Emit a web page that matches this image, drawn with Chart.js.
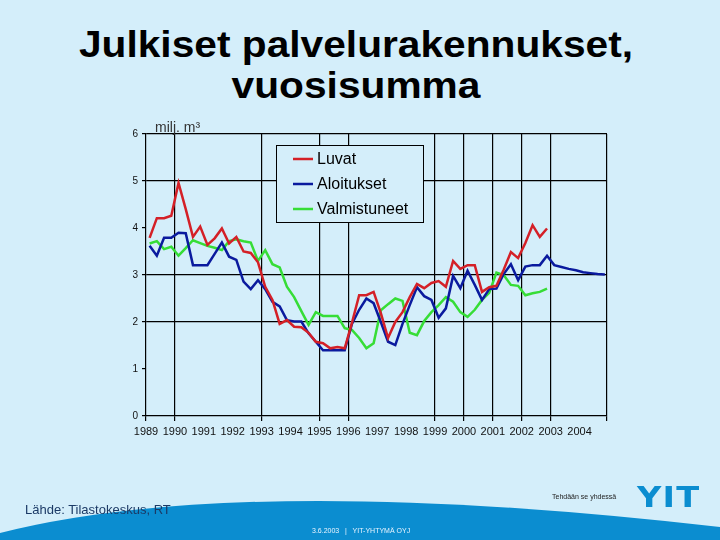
<!DOCTYPE html>
<html>
<head>
<meta charset="utf-8">
<script src="https://cdn.jsdelivr.net/npm/chart.js@4"></script>
<style>
  body { margin: 0; background: #d4eefa; }
  #wrap { position: relative; width: 720px; height: 540px; overflow: hidden; font-family: "Liberation Sans", Arial, sans-serif; }
  #title { position: absolute; left: 0; top: 24px; width: 712px; text-align: center; font-weight: bold; font-size: 37px; line-height: 41px; color: #000; transform: scaleX(1.1); transform-origin: 356px 0; }
  #wave { position: absolute; left: 0; top: 0; }
  #myChart { position: absolute; left: 0; top: 0; }
  .foot { position: absolute; white-space: nowrap; }
</style>
</head>
<body>
<div id="wrap">
  <svg id="wave" width="720" height="540">
    <path d="M0,533 Q240,472 720,527 L720,540 L0,540 Z" fill="#0b8dd0" />
  </svg>
  <div id="title">Julkiset palvelurakennukset,<br>vuosisumma</div>
  <canvas id="myChart" width="720" height="540"></canvas>
  <div class="foot" style="left:25px; top:502px; font-size:13px; color:#1b3a66;">Lähde: Tilastokeskus, RT</div>
  <div class="foot" style="left:552px; top:493px; font-size:7px; color:#222;">Tehdään se yhdessä</div>
  <div class="foot" style="left:637px; top:481px; font-size:28px; font-weight:bold; font-family:'DejaVu Sans', sans-serif; color:#0b8dd0; letter-spacing:1px; transform:scaleX(1.2); transform-origin:left;">YIT</div>
  <div class="foot" style="left:312px; top:527px; font-size:7px; color:#e8f4ff;">3.6.2003 &nbsp; | &nbsp; YIT-YHTYMÄ OYJ</div>
</div>
<script>
// quarterly annual sums, milj. m3
const firstQuarter = 1989.125;
const quarterStep = 0.25;

const luvat = [3.79, 4.21, 4.21, 4.26, 4.96, 4.40, 3.81, 4.03, 3.64, 3.78, 3.99, 3.67, 3.81, 3.50, 3.47, 3.27,
  2.75, 2.47, 1.96, 2.04, 1.90, 1.89, 1.77, 1.58, 1.55, 1.44, 1.47, 1.44, 1.98, 2.57, 2.57, 2.64,
  2.19, 1.66, 2.00, 2.21, 2.53, 2.81, 2.72, 2.83, 2.87, 2.75, 3.30, 3.13, 3.21, 3.21, 2.64, 2.74,
  2.77, 3.11, 3.49, 3.36, 3.68, 4.06, 3.81, 3.99];

const aloitukset = [3.62, 3.41, 3.79, 3.79, 3.90, 3.89, 3.21, 3.21, 3.21, 3.45, 3.69, 3.39, 3.32, 2.86, 2.70, 2.89,
  2.70, 2.43, 2.33, 2.04, 2.01, 2.01, 1.76, 1.58, 1.40, 1.40, 1.40, 1.40, 1.96, 2.26, 2.50, 2.40,
  2.00, 1.58, 1.51, 1.96, 2.36, 2.74, 2.55, 2.47, 2.09, 2.29, 2.98, 2.72, 3.09, 2.79, 2.47, 2.70,
  2.71, 3.02, 3.23, 2.89, 3.18, 3.21, 3.21, 3.41, 3.21, 3.17, 3.13, 3.10, 3.06, 3.04, 3.02, 3.01];

const valmistuneet = [3.67, 3.72, 3.55, 3.60, 3.41, 3.57, 3.74, 3.68, 3.62, 3.58, 3.53, 3.72, 3.76, 3.72, 3.69, 3.30,
  3.53, 3.23, 3.16, 2.75, 2.53, 2.23, 1.94, 2.21, 2.13, 2.13, 2.13, 1.87, 1.83, 1.66, 1.44, 1.55,
  2.25, 2.38, 2.50, 2.45, 1.77, 1.72, 2.02, 2.21, 2.36, 2.53, 2.43, 2.21, 2.11, 2.26, 2.47, 2.62,
  3.05, 3.00, 2.79, 2.77, 2.57, 2.61, 2.64, 2.71];

const tickYears = [1989, 1990, 1991, 1992, 1993, 1994, 1995, 1996, 1997, 1998, 1999, 2000, 2001, 2002, 2003, 2004];
const gridYears = [1990, 1993, 1995, 1996, 1999, 2000, 2001, 2002, 2003];
const gridValues = [2, 3, 5, 6];
const xMin = 1989;
const xMax = 2004.95;

function toPoints(arr) {
  return arr.map((v, i) => ({ x: firstQuarter + i * quarterStep, y: v }));
}

// legend box and unit text drawn on the canvas
const extras = {
  id: "extras",
  afterDatasetsDraw(chart) {
    const ctx = chart.ctx;
    ctx.save();
    ctx.fillStyle = "#d4eefa";
    ctx.fillRect(276, 145, 147, 77);
    ctx.strokeStyle = "#000";
    ctx.lineWidth = 1;
    ctx.strokeRect(276.5, 145.5, 147, 77);
    ctx.font = "16px 'Liberation Sans', Arial, sans-serif";
    ctx.textBaseline = "middle";
    chart.data.datasets.forEach((ds, i) => {
      const y = 159 + i * 25;
      ctx.strokeStyle = ds.borderColor;
      ctx.lineWidth = 2.5;
      ctx.beginPath();
      ctx.moveTo(293, y);
      ctx.lineTo(313, y);
      ctx.stroke();
      ctx.fillStyle = "#000";
      ctx.fillText(ds.label, 317, y + 1);
    });
    ctx.font = "14px 'Liberation Sans', Arial, sans-serif";
    ctx.fillStyle = "#333";
    ctx.textBaseline = "alphabetic";
    ctx.fillText("milj. m³", 155, 132);
    ctx.restore();
  }
};

const ctx = document.getElementById("myChart").getContext("2d");

const myChart = new Chart(ctx, {
  type: "line",
  data: {
    datasets: [
      { label: "Luvat", data: toPoints(luvat), borderColor: "#d42027" },
      { label: "Aloitukset", data: toPoints(aloitukset), borderColor: "#0a1a9e" },
      { label: "Valmistuneet", data: toPoints(valmistuneet), borderColor: "#36dd36" },
    ],
  },
  options: {
    responsive: false,
    animation: false,
    devicePixelRatio: 1,
    layout: { padding: { left: 116, top: 134, right: 113, bottom: 94 } },
    elements: {
      line: { borderWidth: 2.5, tension: 0, fill: false },
      point: { radius: 0 },
    },
    plugins: {
      legend: { display: false },
      tooltip: { enabled: false },
    },
    scales: {
      x: {
        type: "linear",
        min: xMin,
        max: xMax,
        afterBuildTicks: (scale) => {
          scale.ticks = tickYears.map((v) => ({ value: v })).concat([{ value: xMax }]);
        },
        afterFit: (scale) => { scale.height = 30; },
        ticks: {
          autoSkip: false,
          maxRotation: 0,
          padding: 4,
          color: "#111",
          font: { size: 11, family: "'Liberation Sans', Arial, sans-serif" },
          callback: (v) => (Number.isInteger(v) ? String(v) : ""),
        },
        grid: {
          color: (c) => (gridYears.includes(c.tick.value) || c.tick.value === xMax ? "#000" : "rgba(0,0,0,0)"),
          tickColor: (c) => (gridYears.includes(c.tick.value) || c.tick.value === xMax || c.tick.value === xMin ? "#000" : "rgba(0,0,0,0)"),
          tickLength: 5,
          lineWidth: 1.2,
        },
        border: { display: true, color: "#000", width: 1.2 },
      },
      y: {
        min: 0,
        max: 6,
        afterFit: (scale) => { scale.width = 30; },
        ticks: {
          stepSize: 1,
          padding: 4,
          color: "#111",
          font: { size: 10, family: "'Liberation Sans', Arial, sans-serif" },
        },
        grid: {
          color: (c) => (gridValues.includes(c.tick.value) ? "#000" : "rgba(0,0,0,0)"),
          tickColor: "#000",
          tickLength: 4,
          lineWidth: 1.2,
        },
        border: { display: true, color: "#000", width: 1.2 },
      },
    },
  },
  plugins: [extras],
});
</script>
</body>
</html>
